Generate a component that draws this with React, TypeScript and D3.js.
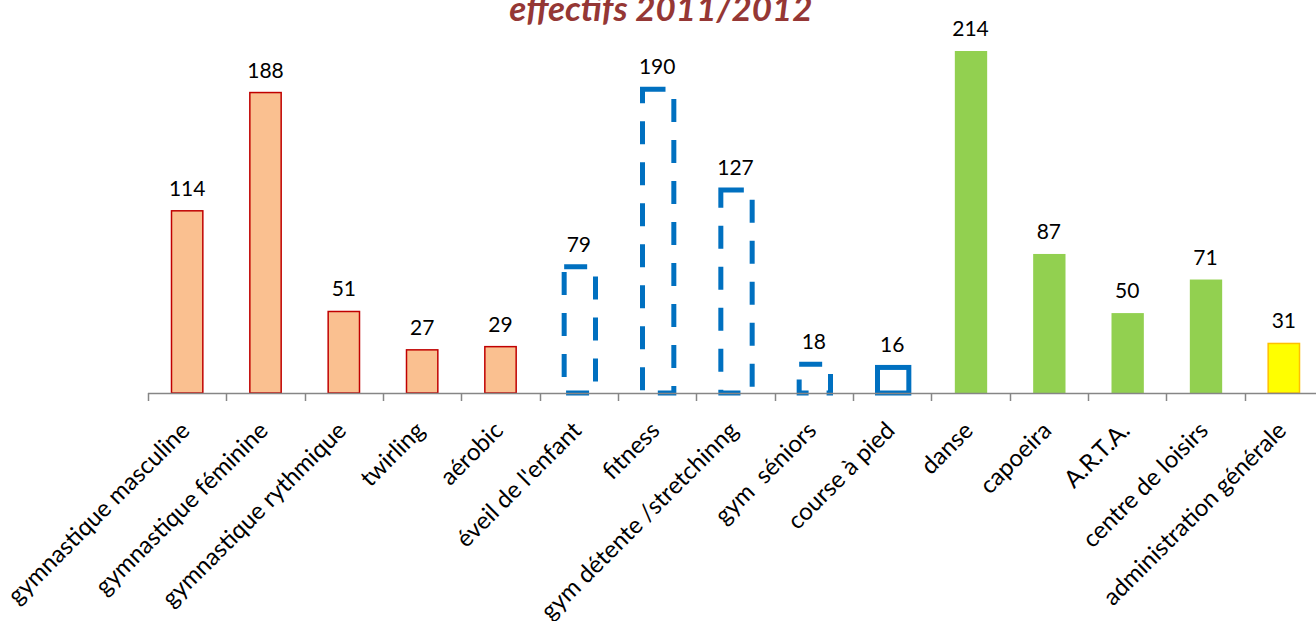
import React, { useEffect, useRef } from 'react';
import * as d3 from 'd3';

// categories and values
const categories = [
  'gymnastique masculine',
  'gymnastique féminine',
  'gymnastique rythmique',
  'twirling',
  'aérobic',
  "éveil de l'enfant",
  'fitness',
  'gym détente /stretchinng',
  'gym  séniors',
  'course à pied',
  'danse',
  'capoeira',
  'A.R.T.A.',
  'centre de loisirs',
  'administration générale',
];
const values = [114, 188, 51, 27, 29, 79, 190, 127, 18, 16, 214, 87, 50, 71, 31];
// style group for each bar
const groups = ['gym', 'gym', 'gym', 'gym', 'gym', 'dash', 'dash', 'dash', 'dash', 'solid', 'green', 'green', 'green', 'green', 'admin'];

const W = 1316;
const H = 621;
const FONT = 'Lato, "Noto Sans", sans-serif';

const App = () => {
  const ref = useRef<SVGSVGElement>(null);

  useEffect(() => {
    const svg = d3.select(ref.current);
    svg.selectAll('*').remove();

    const data = categories.map((c, i) => ({ cat: c, value: values[i], group: groups[i] }));

    const x = d3.scaleBand<string>()
      .domain(categories)
      .range([148, 1323])
      .paddingInner(0.6)
      .paddingOuter(0.3);

    const y = d3.scaleLinear()
      .domain([0, 214])
      .range([393, 51]);

    // band boundaries for tick marks
    const step = x.step();
    const start = 148;

    // bars
    const bars = svg.append('g');
    data.forEach(d => {
      const bx = x(d.cat)!;
      const bw = x.bandwidth();
      const top = y(d.value);
      const h = y(0) - top;
      const r = bars.append('rect');
      if (d.group === 'gym') {
        r.attr('x', bx).attr('y', top).attr('width', bw).attr('height', h)
          .attr('fill', '#FAC090').attr('stroke', '#C00000').attr('stroke-width', 1.5);
      } else if (d.group === 'dash') {
        r.attr('x', bx + 1).attr('y', top).attr('width', bw).attr('height', h)
          .attr('fill', 'none').attr('stroke', '#0070C0').attr('stroke-width', 5)
          .attr('stroke-dasharray', '23 18');
      } else if (d.group === 'solid') {
        r.attr('x', bx + 1).attr('y', top).attr('width', bw).attr('height', h)
          .attr('fill', 'none').attr('stroke', '#0070C0').attr('stroke-width', 5);
      } else if (d.group === 'green') {
        r.attr('x', bx).attr('y', top).attr('width', bw + 1).attr('height', h)
          .attr('fill', '#92D050');
      } else {
        r.attr('x', bx).attr('y', top).attr('width', bw).attr('height', h)
          .attr('fill', '#FFFF00').attr('stroke', '#FFC000').attr('stroke-width', 1.5);
      }
    });

    // x axis
    const axis = svg.append('g');
    axis.append('line')
      .attr('x1', start).attr('x2', W + 10)
      .attr('y1', 393.5).attr('y2', 393.5)
      .attr('stroke', '#868686').attr('stroke-width', 1.5);
    d3.range(categories.length + 1).forEach(i => {
      const tx = Math.round(start + i * step) + 0.5;
      axis.append('line')
        .attr('x1', tx).attr('x2', tx)
        .attr('y1', 393).attr('y2', 401)
        .attr('stroke', '#868686').attr('stroke-width', 1.5);
    });

    // value labels
    svg.append('g').selectAll('text')
      .data(data)
      .enter()
      .append('text')
      .attr('x', d => x(d.cat)! + x.bandwidth() / 2)
      .attr('y', d => y(d.value) - 15)
      .attr('text-anchor', 'middle')
      .attr('font-family', FONT)
      .attr('font-size', 21)
      .attr('fill', '#000')
      .text(d => d.value);

    // category labels rotated
    svg.append('g').selectAll('text')
      .data(data)
      .enter()
      .append('text')
      .attr('transform', d => `translate(${x(d.cat)! + x.bandwidth() / 2 + 4},${432}) rotate(-45)`)
      .attr('text-anchor', 'end')
      .attr('font-family', FONT)
      .attr('font-size', 24)
      .attr('fill', '#000')
      .style('white-space', 'pre')
      .text(d => d.cat);

    // title
    svg.append('text')
      .attr('x', 661)
      .attr('y', 21)
      .attr('text-anchor', 'middle')
      .attr('font-family', FONT)
      .attr('font-size', 35)
      .attr('font-weight', 'bold')
      .attr('font-style', 'italic')
      .attr('fill', '#953735')
      .text('effectifs 2011/2012');
  }, []);

  return (
    <svg
      ref={ref}
      width={W}
      height={H}
      style={{ position: 'absolute', left: 0, top: 0, display: 'block', background: '#fff' }}
    />
  );
};

export default App;
